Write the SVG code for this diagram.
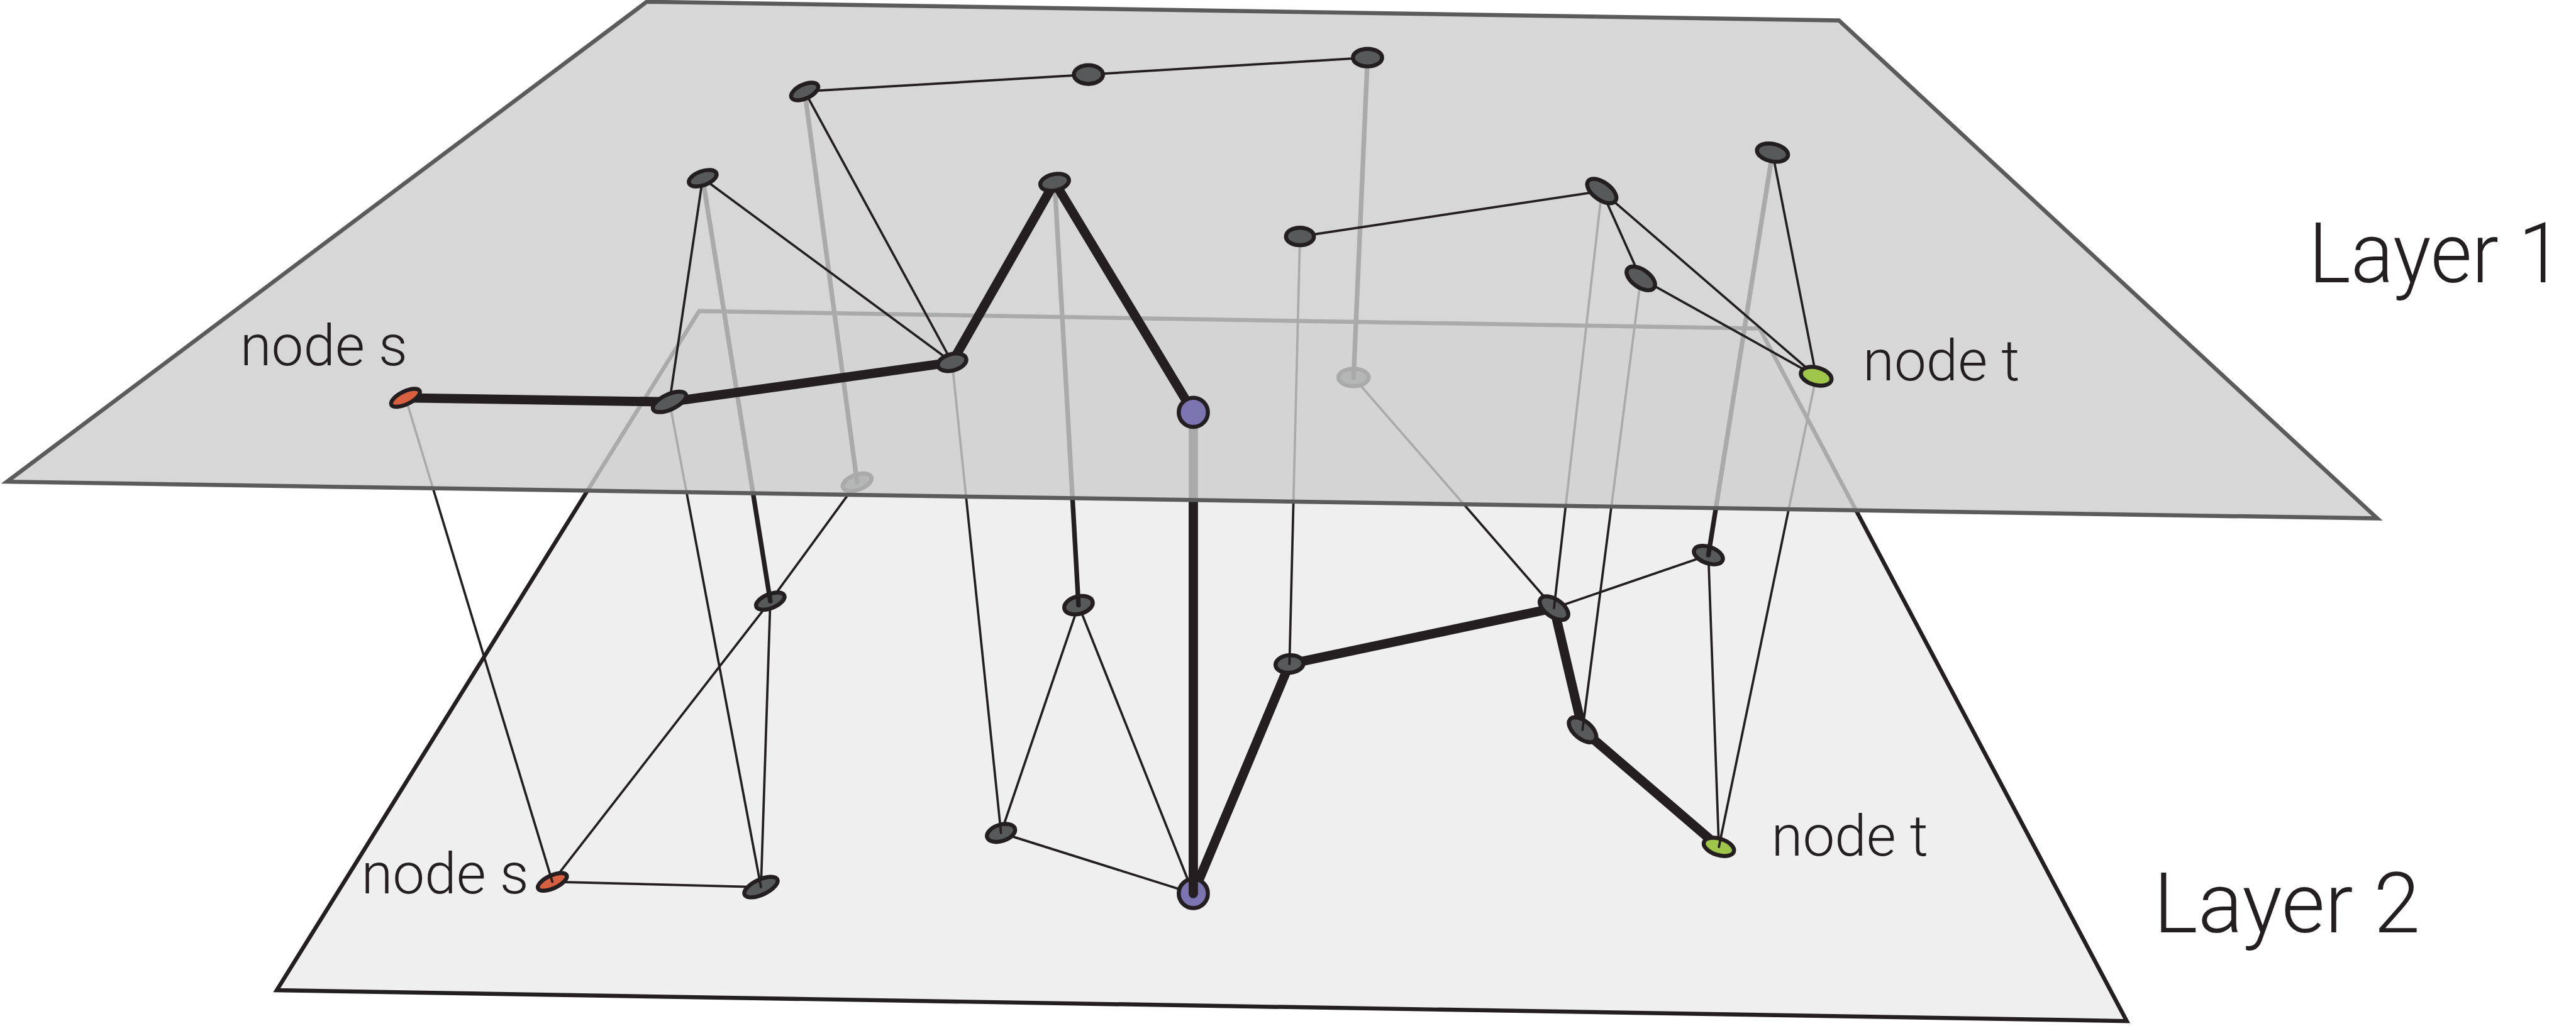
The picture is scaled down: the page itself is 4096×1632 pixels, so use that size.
<svg xmlns="http://www.w3.org/2000/svg" width="4096" height="1632" viewBox="0 0 4096 1632">
<style>
.plane1{fill:#cdcdcd;fill-opacity:0.8;stroke:#5b5b5b;stroke-width:7;stroke-linejoin:miter}
.plane2{fill:#efefef;stroke:#231f20;stroke-width:7;stroke-linejoin:miter}
.e{stroke:#231f20;fill:none;stroke-linecap:round}
.thin{stroke-width:4}
.med{stroke-width:8}
.thick{stroke-width:16}
.n{fill:#58595b;stroke:#231f20;stroke-width:7}
.red{fill:#d6603f}
.pur{fill:#7c74b0}
.grn{fill:#9fc54b}
.lbl{font-family:Roboto,"Liberation Sans",sans-serif;font-weight:300;fill:#231f20}
.nl{font-size:98px}
.ll{font-size:144px}
</style>
<rect width="4096" height="1632" fill="#ffffff"/>
<g transform="scale(0.926487)">
  <g id="layer2-plane">
    <polygon class="plane2" points="1200,534 3020,564 3650,1753 475,1700"/>
  </g>
  <g id="connectors-layer2">
    <line class="e thin" x1="948" y1="1514" x2="1306" y2="1523"/>
    <line class="e thin" x1="948" y1="1514" x2="1322" y2="1032"/>
    <line class="e thin" x1="1322" y1="1032" x2="1471" y2="828"/>
    <line class="e thin" x1="1322" y1="1032" x2="1306" y2="1523"/>
    <line class="e thin" x1="1718" y1="1430" x2="1851" y2="1039"/>
    <line class="e thin" x1="1851" y1="1039" x2="2048" y2="1534"/>
    <line class="e thin" x1="1718" y1="1430" x2="2048" y2="1534"/>
    <line class="e thin" x1="2323" y1="648" x2="2667" y2="1044"/>
    <line class="e thin" x1="2667" y1="1044" x2="2932" y2="953"/>
    <line class="e thin" x1="2932" y1="953" x2="2950" y2="1454"/>
    <line class="e thick" x1="2048" y1="1534" x2="2213" y2="1140"/>
    <line class="e thick" x1="2213" y1="1140" x2="2667" y2="1044"/>
    <line class="e thick" x1="2667" y1="1044" x2="2716" y2="1253"/>
    <line class="e thick" x1="2716" y1="1253" x2="2950" y2="1454"/>
  </g>
  <g id="node-s-layer2"><ellipse class="n red" cx="948" cy="1514" rx="27" ry="11" transform="rotate(-25 948 1514)"/></g>
  <g id="node-q"><ellipse class="n" cx="1306" cy="1523" rx="31" ry="13" transform="rotate(-25 1306 1523)"/></g>
  <g id="node-r"><ellipse class="n" cx="1322" cy="1032" rx="26" ry="12" transform="rotate(-22 1322 1032)"/></g>
  <g id="node-g1"><ellipse class="n" cx="1471" cy="828" rx="26" ry="13" transform="rotate(-20 1471 828)"/></g>
  <g id="node-s2"><ellipse class="n" cx="1718" cy="1430" rx="25" ry="14" transform="rotate(-18 1718 1430)"/></g>
  <g id="node-t2"><ellipse class="n" cx="1851" cy="1039" rx="25" ry="15" transform="rotate(-15 1851 1039)"/></g>
  <g id="node-u"><circle class="n pur" cx="2048" cy="1534" r="25"/></g>
  <g id="node-v"><ellipse class="n" cx="2213" cy="1140" rx="24" ry="15" transform="rotate(-5 2213 1140)"/></g>
  <g id="node-g2"><ellipse class="n" cx="2323" cy="648" rx="26" ry="15"/></g>
  <g id="node-w"><ellipse class="n" cx="2667" cy="1044" rx="28" ry="15" transform="rotate(35 2667 1044)"/></g>
  <g id="node-x"><ellipse class="n" cx="2932" cy="953" rx="26" ry="14" transform="rotate(20 2932 953)"/></g>
  <g id="node-y"><ellipse class="n" cx="2716" cy="1253" rx="28" ry="15" transform="rotate(40 2716 1253)"/></g>
  <g id="node-t-layer2"><ellipse class="n grn" cx="2950" cy="1454" rx="27" ry="14" transform="rotate(18 2950 1454)"/></g>
  <g id="connectors-interlayer">
    <line class="e thin" x1="696" y1="683" x2="948" y2="1514"/>
    <line class="e thin" x1="1149" y1="690" x2="1306" y2="1523"/>
    <line class="e med" x1="1206" y1="306" x2="1322" y2="1032"/>
    <line class="e med" x1="1381" y1="157" x2="1471" y2="828"/>
    <line class="e thin" x1="1634" y1="622" x2="1718" y2="1430"/>
    <line class="e med" x1="1810" y1="313" x2="1851" y2="1039"/>
    <line class="e thick" x1="2048" y1="708" x2="2048" y2="1534"/>
    <line class="e med" x1="2347" y1="99" x2="2323" y2="648"/>
    <line class="e thin" x1="2231" y1="406" x2="2213" y2="1140"/>
    <line class="e thin" x1="2749" y1="328" x2="2667" y2="1044"/>
    <line class="e thin" x1="2816" y1="478" x2="2716" y2="1253"/>
    <line class="e med" x1="3042" y1="262" x2="2932" y2="953"/>
    <line class="e thin" x1="3117" y1="646" x2="2950" y2="1454"/>
  </g>
  <g id="layer1-plane">
    <polygon class="plane1" points="12,827 1110,3 3156,35 4080,890"/>
  </g>
  <g id="connectors-layer1">
    <line class="e thick" x1="696" y1="683" x2="1149" y2="690"/>
    <line class="e thick" x1="1149" y1="690" x2="1634" y2="622"/>
    <line class="e thick" x1="1634" y1="622" x2="1810" y2="313"/>
    <line class="e thick" x1="1810" y1="313" x2="2048" y2="708"/>
    <line class="e thin" x1="1149" y1="690" x2="1206" y2="306"/>
    <line class="e thin" x1="1206" y1="306" x2="1634" y2="622"/>
    <line class="e thin" x1="1381" y1="157" x2="1634" y2="622"/>
    <line class="e thin" x1="1381" y1="157" x2="1868" y2="128"/>
    <line class="e thin" x1="1868" y1="128" x2="2347" y2="99"/>
    <line class="e thin" x1="2231" y1="406" x2="2749" y2="328"/>
    <line class="e thin" x1="2749" y1="328" x2="2816" y2="478"/>
    <line class="e thin" x1="2749" y1="328" x2="3117" y2="646"/>
    <line class="e thin" x1="2816" y1="478" x2="3117" y2="646"/>
    <line class="e thin" x1="3042" y1="262" x2="3117" y2="646"/>
  </g>
  <g id="node-s-layer1"><ellipse class="n red" cx="696" cy="683" rx="27" ry="11" transform="rotate(-26 696 683)"/></g>
  <g id="node-b"><ellipse class="n" cx="1149" cy="690" rx="31" ry="13" transform="rotate(-25 1149 690)"/></g>
  <g id="node-c"><ellipse class="n" cx="1206" cy="306" rx="25" ry="12" transform="rotate(-20 1206 306)"/></g>
  <g id="node-d"><ellipse class="n" cx="1381" cy="157" rx="25" ry="12" transform="rotate(-25 1381 157)"/></g>
  <g id="node-e"><ellipse class="n" cx="1868" cy="128" rx="25" ry="16"/></g>
  <g id="node-f"><ellipse class="n" cx="2347" cy="99" rx="25" ry="15"/></g>
  <g id="node-g"><ellipse class="n" cx="1634" cy="622" rx="25" ry="14" transform="rotate(-15 1634 622)"/></g>
  <g id="node-h"><ellipse class="n" cx="1810" cy="313" rx="25" ry="14" transform="rotate(-12 1810 313)"/></g>
  <g id="node-i"><circle class="n pur" cx="2048" cy="708" r="25"/></g>
  <g id="node-j"><ellipse class="n" cx="2231" cy="406" rx="24" ry="15"/></g>
  <g id="node-k"><ellipse class="n" cx="2749" cy="328" rx="29" ry="15" transform="rotate(36 2749 328)"/></g>
  <g id="node-l"><ellipse class="n" cx="2816" cy="478" rx="28" ry="15" transform="rotate(35 2816 478)"/></g>
  <g id="node-m"><ellipse class="n" cx="3042" cy="262" rx="27" ry="15" transform="rotate(12 3042 262)"/></g>
  <g id="node-t-layer1"><ellipse class="n grn" cx="3117" cy="646" rx="27" ry="15" transform="rotate(15 3117 646)"/></g>
  <g id="labels">
    <text class="lbl nl" x="412" y="627">node s</text>
    <text class="lbl nl" x="3197" y="653">node t</text>
    <text class="lbl nl" x="620" y="1534">node s</text>
    <text class="lbl nl" x="3040" y="1469">node t</text>
    <text class="lbl ll" x="3962" y="485" textLength="436" lengthAdjust="spacingAndGlyphs">Layer 1</text>
    <text class="lbl ll" x="3696" y="1601">Layer 2</text>
  </g>
</g>
</svg>
